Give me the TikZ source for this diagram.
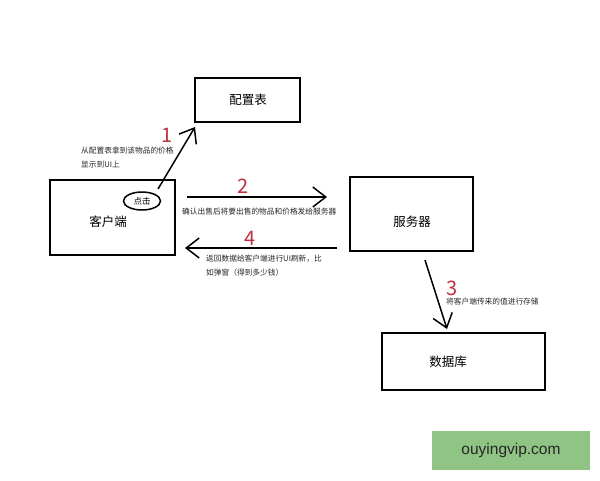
\documentclass[tikz,border=0pt]{standalone}
\usepackage{fontspec}
\setmainfont{Liberation Sans}
\newfontfamily\cjk{Noto Sans CJK SC}
\usetikzlibrary{arrows.meta}
\definecolor{numred}{HTML}{C0303C}
\definecolor{wmgreen}{HTML}{8FC485}
\begin{document}
\begin{tikzpicture}[x=1pt,y=-1pt,
  box/.style={draw=black,line width=1.8pt,inner sep=0pt},
  boxlabel/.style={font=\cjk\fontsize{12.5}{14}\selectfont},
  note/.style={font=\cjk\fontsize{7.7}{13.5}\selectfont,text=black!85,anchor=north west,align=left,inner sep=0pt},
  num/.style={font=\cjk\fontsize{20}{22}\selectfont,text=numred,inner sep=0pt},
  arr/.style={line width=1.5pt,-{Straight Barb[length=13pt,width=20pt,line width=1.5pt]}}]
\useasboundingbox (0,0) rectangle (600,480);
\fill[white] (0,0) rectangle (600,480);
% boxes
\node[box,minimum width=105pt,minimum height=44pt] (cfg) at (247.5,100) {};
\node[boxlabel] (cfgt) at (248,100) {配置表};
\node[box,minimum width=125pt,minimum height=75pt] (cli) at (112.5,217.5) {};
\node[boxlabel] (clit) at (108,222) {客户端};
\node[box,minimum width=123pt,minimum height=74pt] (srv) at (411.5,214) {};
\node[boxlabel] (srvt) at (412,222) {服务器};
\node[box,minimum width=163pt,minimum height=57pt] (db) at (463.5,361.5) {};
\node[boxlabel] (dbt) at (448,362) {数据库};
% click ellipse
\draw[line width=1.5pt] (142,201) ellipse (18.5pt and 9pt);
\node[font=\cjk\fontsize{8.5}{10}\selectfont,inner sep=0pt] (click) at (142,201) {点击};
% arrow endpoints
\coordinate (a1s) at (158,189);
\coordinate (a1e) at (195,127);
\coordinate (a2s) at (187,197);
\coordinate (a2e) at (327,197);
\coordinate (a4s) at (337,248);
\coordinate (a4e) at (185,248);
\coordinate (a3s) at (425,260);
\coordinate (a3e) at (447,329);
\draw[arr] (a1s) -- (a1e);
\draw[arr] (a2s) -- (a2e);
\draw[arr] (a4s) -- (a4e);
\draw[arr] (a3s) -- (a3e);
% numbers
\node[num] (n1) at (167,135) {1};
\node[num] (n2) at (243,186) {2};
\node[num] (n4) at (250,238) {4};
\node[num] (n3) at (452,288) {3};
% notes
\node[note] (t1) at (81,147) {从配置表拿到该物品的价格\\显示到UI上};
\node[note] (t2) at (182,208) {确认出售后将要出售的物品和价格发给服务器};
\node[note] (t4) at (206,255) {返回数据给客户端进行UI刷新，比\\如弹窗（得到多少钱）};
\node[note] (t3) at (446,298) {将客户端传来的值进行存储};
% watermark
\fill[wmgreen] (432,431) rectangle (590,470);
\node[font=\fontsize{15.5}{17}\selectfont,text=black!85] (wm) at (511,450.5) {ouyingvip.com};
\end{tikzpicture}
\end{document}
